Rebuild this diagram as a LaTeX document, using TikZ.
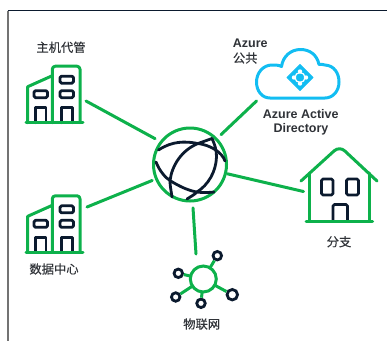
\documentclass[tikz,border=0pt]{standalone}
\usepackage{fontspec}
\usepackage{xcolor}
\setmainfont{Liberation Sans}
\newfontfamily\cjk[FakeBold=0.2]{Noto Sans CJK SC}
\definecolor{linkgreen}{HTML}{0DB14B}
\definecolor{inknavy}{HTML}{0B1A2E}
\definecolor{cloudblue}{HTML}{12BDF2}
\definecolor{labelgrey}{HTML}{2F3237}
\tikzset{
	greenline/.style={draw=linkgreen, line width=3pt, line cap=round, line join=round},
	navyline/.style={draw=inknavy, line width=2.8pt, line cap=round, line join=round},
	cjklabel/.style={text=labelgrey, font=\cjk\fontsize{12.3}{14}\selectfont, inner sep=0pt},
	latinlabel/.style={text=labelgrey, font=\bfseries\fontsize{12.5}{14}\selectfont, inner sep=0pt},
	satellite/.style={circle, draw=inknavy, line width=2.8pt, fill=white, inner sep=0pt},
	towers/.pic={
		\draw[navyline, rounded corners=1.5pt] (34,-39.5) rectangle (47.5,-46.5);
		\draw[navyline, rounded corners=1.5pt] (34,-25) rectangle (47.5,-32);
		\draw[navyline, rounded corners=1.5pt] (8,-25) rectangle (21.5,-32);
		\draw[navyline] (35.5,0) -- (35.5,-15) -- (46.5,-15) -- (46.5,0);
		\draw[navyline] (9.5,0) -- (9.5,-15) -- (20,-15) -- (20,0);
		\draw[greenline] (26.3,0) -- (26.3,-53) [rounded corners=3pt] -- (26.3,-56.5) -- (54,-56.5) -- (54,0);
		\draw[greenline] (1.7,0) -- (1.7,-36) -- (26.3,-47);
		\draw[greenline] (0,0) -- (57,0);
	},
}
\begin{document}
\begin{tikzpicture}[x=1pt, y=-1pt]
	\useasboundingbox (0,0) rectangle (387,341);
	\draw[inknavy, line width=1.3pt] (7.5,10.5) -- (387,10.5);
	\draw[black!55, line width=1.8pt] (8,10.5) -- (8,341);

	% hub
	\node[circle, minimum size=73pt, inner sep=0pt, outer sep=0pt, draw=linkgreen, line width=3pt] (globe) at (190,164.5) {};
	\draw[navyline] (158.5,150) .. controls (172,141) and (185,141) .. (198,143.5) .. controls (210,145) and (222,152) .. (225,161);
	\draw[navyline] (156,162) .. controls (160,172) and (166,178) .. (170,180.5) .. controls (180,187) and (190,191) .. (197,192) .. controls (205,193) and (208,192.5) .. (214,192);
	\draw[navyline] (172,197) .. controls (171,190) and (170,186) .. (170,180.5) .. controls (172,165) and (182,150) .. (198,143.5) -- (212,138.5);
	\draw[navyline] (187,199) .. controls (190,197) and (194,195) .. (197,192) .. controls (208,185) and (216,172) .. (216.5,157) .. controls (216.5,150) and (215,145) .. (212,138.5);

	% icons
	\pic at (26,122.7) {towers};
	\pic at (26,252.3) {towers};

	% cloud
	\draw[draw=cloudblue, line width=3pt, line join=round] (270,98) .. controls (262,98) and (256.5,91) .. (256.5,82) .. controls (256.5,73) and (263,65) .. (272,65) .. controls (275,65) and (279,65) .. (281.5,66.5) .. controls (283,56) and (291,49.5) .. (300.5,49.5) .. controls (310,49.5) and (317,55) .. (319,64.5) .. controls (321,64) and (323,64.5) .. (325,65) .. controls (334,65.5) and (339,73) .. (339,82) .. controls (339,91) and (333,98) .. (325,98) -- cycle;
	\fill[cloudblue, draw=cloudblue, line width=1pt, line join=round] (300,64.5) -- (313,77.5) -- (300,90.5) -- (287,77.5) -- cycle;
	\draw[white, line width=1.2pt] (300,77.5) circle (5pt);
	\foreach \dotx/\doty in {300/71.5, 294/77.5, 306/77.5, 300/83.5}
		\fill[white] (\dotx,\doty) circle (2.2pt);

	% house
	\draw[navyline, rounded corners=1.5pt] (321.5,179) rectangle (333,195);
	\draw[navyline, rounded corners=1.5pt] (346.5,179) rectangle (358.5,195);
	\draw[navyline, rounded corners=1.5pt] (333,220) -- (333,204.5) -- (347.5,204.5) -- (347.5,220);
	\draw[greenline] (309.5,221) -- (309.5,173);
	\draw[greenline] (369.5,221) -- (369.5,173);
	\draw[greenline, rounded corners=7pt] (301,181) -- (339.5,146) -- (377,181);
	\draw[greenline] (306,221) -- (372.5,221);

	% iot
	\node[circle, minimum size=26pt, inner sep=0pt, outer sep=0pt, draw=linkgreen, line width=3pt, fill=white] (iothub) at (203.3,279) {};
	\node[satellite, minimum size=8.5pt] (iota) at (217.3,255.7) {};
	\node[satellite, minimum size=8.5pt] (iotb) at (178.3,273.3) {};
	\node[satellite, minimum size=8.5pt] (iotc) at (175.7,297) {};
	\node[satellite, minimum size=8.5pt] (iotd) at (201,303.3) {};
	\node[satellite, minimum size=10.5pt] (iote) at (232.3,294.7) {};
	\foreach \leaf in {iota,iotb,iotc,iotd,iote}
		\draw[linkgreen, line width=3pt] (iothub) -- (\leaf);

	% links
	\coordinate (hostend) at (86,101);
	\coordinate (azureend) at (256.5,101);
	\coordinate (branchend) at (303.5,191.5);
	\coordinate (centerend) at (87,207);
	\coordinate (iotend) at (196,254);
	\draw[greenline, shorten <=7pt] (globe.142) -- (hostend);
	\draw[greenline, shorten <=6.5pt] (globe.44) -- (azureend);
	\draw[greenline, shorten <=2pt] (globe.-14) -- (branchend);
	\draw[greenline, shorten <=4.5pt] (globe.203) -- (centerend);
	\draw[greenline, shorten <=7pt] (globe.-86) -- (iotend);

	% labels
	\node[cjklabel] (hostlabel) at (61,47.3) {主机代管};
	\node[cjklabel] (centerlabel) at (54,269) {数据中心};
	\node[cjklabel] (iotlabel) at (201.7,324) {物联网};
	\node[cjklabel] (branchlabel) at (339,241.7) {分支};
	\node[latinlabel, anchor=west] (azurelabel) at (232.7,43.3) {Azure};
	\node[cjklabel, anchor=west] (publiclabel) at (232.7,58) {公共};
	\node[latinlabel] (aadlabel) at (300.7,114) {Azure Active};
	\node[latinlabel] (dirlabel) at (301,129.3) {Directory};
\end{tikzpicture}
\end{document}
